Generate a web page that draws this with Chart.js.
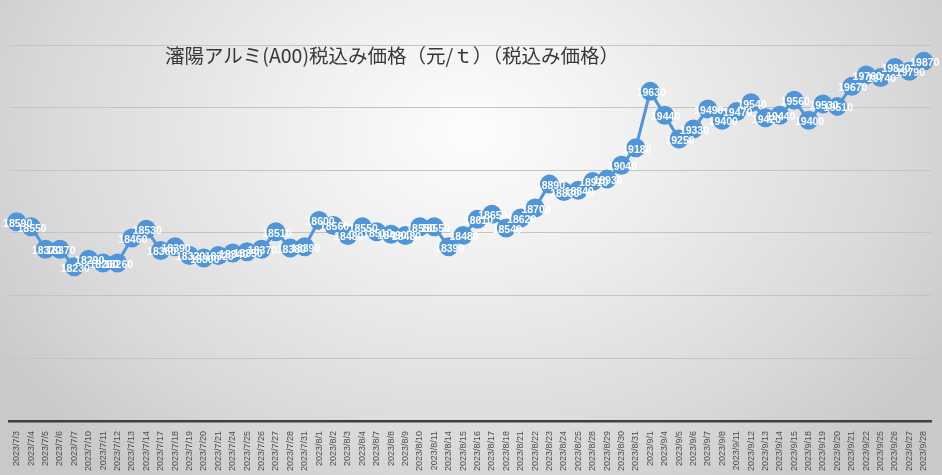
<!DOCTYPE html>
<html>
<head>
<meta charset="utf-8">
<script src="https://cdn.jsdelivr.net/npm/chart.js@4"></script>
<style>
    html, body { margin: 0; padding: 0; }
    #wrap {
        position: relative;
        width: 942px;
        height: 475px;
        background: radial-gradient(ellipse 60% 90% at 50% 28%, #fdfdfd 0%, #f0f0f0 30%, #d9d9d9 75%, #c9c9c9 100%);
    }
    #title {
        position: absolute;
        left: 165px;
        top: 40px;
        font-family: "Noto Sans CJK JP", sans-serif;
        font-size: 19.5px;
        color: #383838;
        white-space: nowrap;
    }
</style>
</head>
<body>
<div id="wrap">
    <canvas id="chart" width="942" height="475"></canvas>
    <div id="title">瀋陽アルミ(A00)税込み価格（元/ｔ）（税込み価格）</div>
</div>
<script>
// dates on the x axis
const dates = [
    '2023/7/3', '2023/7/4', '2023/7/5', '2023/7/6', '2023/7/7', '2023/7/10', '2023/7/11',
    '2023/7/12', '2023/7/13', '2023/7/14', '2023/7/17', '2023/7/18', '2023/7/19', '2023/7/20',
    '2023/7/21', '2023/7/24', '2023/7/25', '2023/7/26', '2023/7/27', '2023/7/28', '2023/7/31',
    '2023/8/1', '2023/8/2', '2023/8/3', '2023/8/4', '2023/8/7', '2023/8/8', '2023/8/9',
    '2023/8/10', '2023/8/11', '2023/8/14', '2023/8/15', '2023/8/16', '2023/8/17', '2023/8/18',
    '2023/8/21', '2023/8/22', '2023/8/23', '2023/8/24', '2023/8/25', '2023/8/28', '2023/8/29',
    '2023/8/30', '2023/8/31',
    '2023/9/1', '2023/9/4', '2023/9/5', '2023/9/6', '2023/9/7', '2023/9/8', '2023/9/11',
    '2023/9/12', '2023/9/13', '2023/9/14', '2023/9/15', '2023/9/18', '2023/9/19', '2023/9/20',
    '2023/9/21', '2023/9/22', '2023/9/25', '2023/9/26', '2023/9/27', '2023/9/28'
];

// price incl. tax (yuan/t)
const prices = [
    18590, 18550, 18370, 18370, 18230, 18290, 18260,
    18260, 18460, 18530, 18360, 18390, 18320, 18300,
    18320, 18340, 18350, 18370, 18510, 18380, 18390,
    18600, 18560, 18480, 18550, 18510, 18490, 18480,
    18550, 18550, 18390, 18480, 18610, 18650, 18540,
    18620, 18700, 18890, 18830, 18840, 18910, 18930,
    19040, 19180,
    19630, 19440, 19250, 19330, 19490, 19400, 19470,
    19540, 19420, 19440, 19560, 19400, 19530, 19510,
    19670, 19760, 19740, 19820, 19790, 19870
];

const yMin = 17000;
const yMax = 20000;
const yStep = 500;

/**
 * Draw value labels on top of each marker
 */
const valueLabels = {
    id: 'valueLabels',
    afterDatasetsDraw(chart) {
        const ctx = chart.ctx;
        const meta = chart.getDatasetMeta(0);
        ctx.save();
        ctx.font = 'bold 10.5px "Liberation Sans", sans-serif';
        ctx.fillStyle = '#ffffff';
        ctx.textAlign = 'center';
        ctx.textBaseline = 'middle';
        meta.data.forEach((pt, i) => {
            ctx.fillText(String(prices[i]), pt.x + 1, pt.y + 2);
        });
        ctx.restore();
    }
};

const ctx = document.getElementById('chart').getContext('2d');
new Chart(ctx, {
    type: 'line',
    data: {
        labels: dates,
        datasets: [{
            data: prices,
            borderColor: '#5195d9',
            backgroundColor: '#5195d9',
            borderWidth: 3,
            pointRadius: 9.5,
            pointBorderWidth: 0,
            pointBackgroundColor: '#5195d9',
            tension: 0
        }]
    },
    options: {
        responsive: false,
        animation: false,
        layout: {
            padding: { top: 45, left: 6, right: 11, bottom: 2 }
        },
        scales: {
            x: {
                offset: true,
                grid: { display: false },
                border: { display: true, color: '#404040', width: 2.5 },
                ticks: {
                    autoSkip: false,
                    minRotation: 90,
                    maxRotation: 90,
                    padding: 2,
                    color: '#4d4d4d',
                    font: { family: '"Liberation Sans", sans-serif', size: 9 }
                }
            },
            y: {
                min: yMin,
                max: yMax,
                ticks: { display: false, stepSize: yStep },
                grid: { color: '#c4c4c4', lineWidth: 1, drawTicks: false },
                border: { display: false }
            }
        },
        plugins: {
            legend: { display: false },
            title: { display: false },
            tooltip: { enabled: false }
        }
    },
    plugins: [valueLabels]
});
</script>
</body>
</html>
